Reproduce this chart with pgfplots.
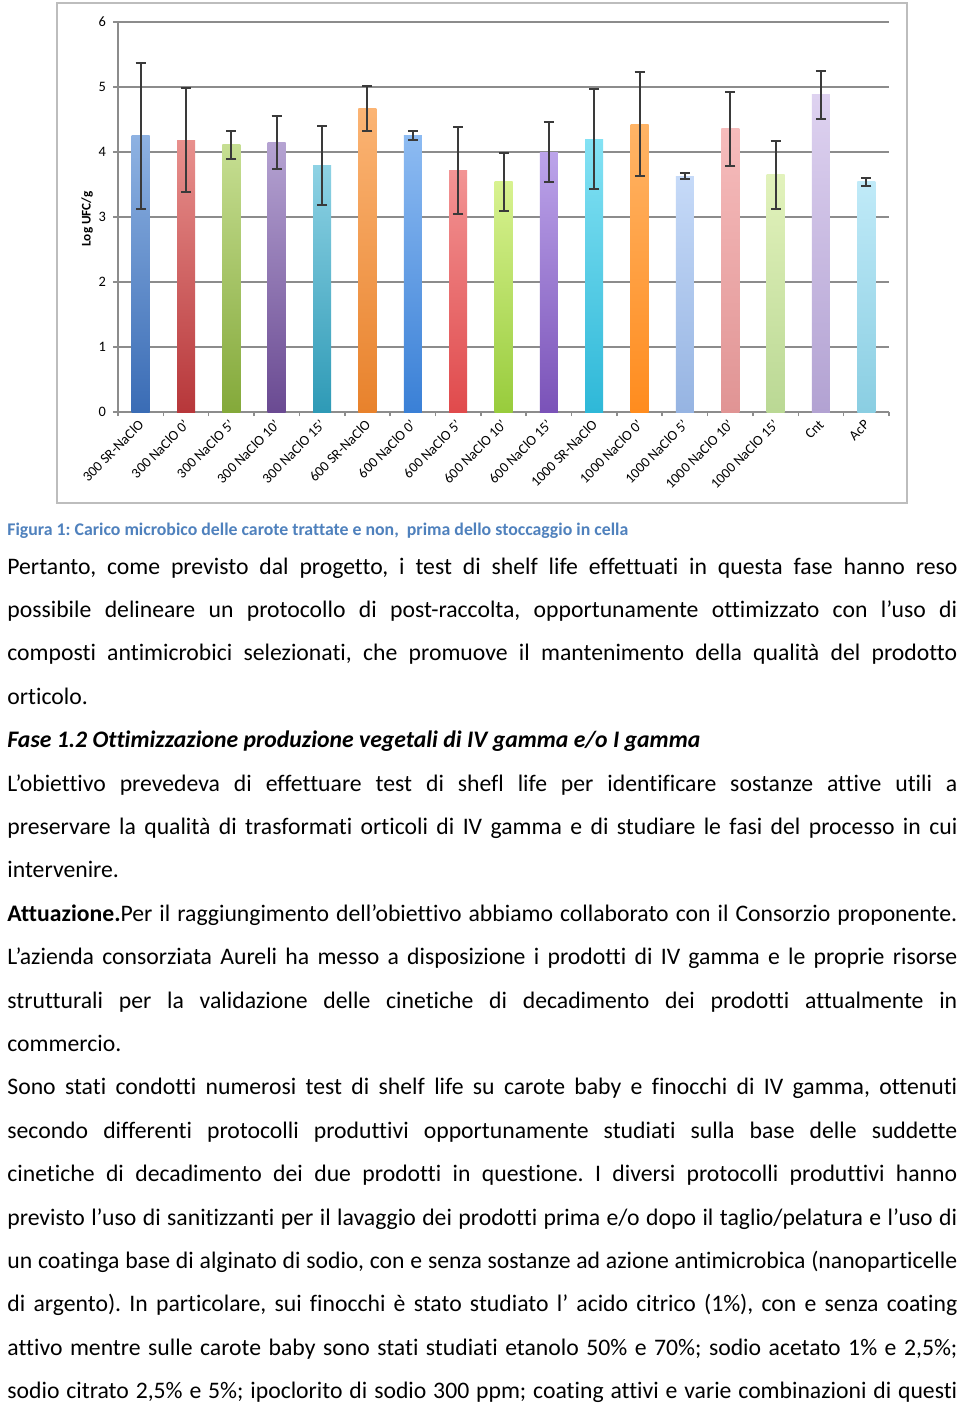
\documentclass[border=0pt]{standalone}
\usepackage{fontspec}
\setmainfont{Carlito}[Ligatures={TeX,NoCommon}]
\usepackage{pgfplots}
\pgfplotsset{compat=1.18}
\definecolor{axisgray}{HTML}{8C8C8C}
\definecolor{framegray}{HTML}{BDBDBD}
\definecolor{errgray}{HTML}{3A3A3A}
\definecolor{capblue}{HTML}{4F81BD}
\definecolor{t1}{HTML}{8EB2E2}\definecolor{b1}{HTML}{3A6CB5}
\definecolor{t2}{HTML}{E8908D}\definecolor{b2}{HTML}{B7373A}
\definecolor{t3}{HTML}{C6DE92}\definecolor{b3}{HTML}{84A93A}
\definecolor{t4}{HTML}{B5A3D2}\definecolor{b4}{HTML}{6A4A92}
\definecolor{t5}{HTML}{8ED2E4}\definecolor{b5}{HTML}{2E9AB6}
\definecolor{t6}{HTML}{FBB474}\definecolor{b6}{HTML}{E8822C}
\definecolor{t7}{HTML}{8DBBF2}\definecolor{b7}{HTML}{3A80D6}
\definecolor{t8}{HTML}{F29494}\definecolor{b8}{HTML}{E04A4C}
\definecolor{t9}{HTML}{D8F290}\definecolor{b9}{HTML}{98CC3C}
\definecolor{t10}{HTML}{BCA4EA}\definecolor{b10}{HTML}{7A52B8}
\definecolor{t11}{HTML}{84E2F4}\definecolor{b11}{HTML}{2EB8D8}
\definecolor{t12}{HTML}{FFB466}\definecolor{b12}{HTML}{FF8C1E}
\definecolor{t13}{HTML}{C6DAF8}\definecolor{b13}{HTML}{96B4E2}
\definecolor{t14}{HTML}{F6BCBC}\definecolor{b14}{HTML}{E09494}
\definecolor{t15}{HTML}{E2F2BC}\definecolor{b15}{HTML}{BAD894}
\definecolor{t16}{HTML}{DED2F0}\definecolor{b16}{HTML}{B2A2D2}
\definecolor{t17}{HTML}{C0EAF8}\definecolor{b17}{HTML}{8ACEE2}
\newcommand{\mybar}[5]{\addplot[ybar, bar width=9pt, bar shift=0pt, draw=none,
  top color=#3, bottom color=#4,
  error bars/.cd, y dir=both, y explicit,
  error bar style={line width=1pt, color=errgray},
  error mark options={rotate=90, mark size=2.5pt, line width=1pt, color=errgray}]
  coordinates {(#1,#2) +- (0,#5)};}
\newcommand{\jline}[2]{\node[anchor=base west, inner sep=0pt] at (3.5pt,#1) {\makebox[475pt][s]{#2}};}
\newcommand{\lline}[2]{\node[anchor=base west, inner sep=0pt] at (3.5pt,#1) {#2};}
\frenchspacing
\begin{document}
\begin{tikzpicture}
\path[use as bounding box, fill=white] (0,0) rectangle (480pt,-701.5pt);
\draw[color=framegray, line width=0.9pt] (28.5pt,-1.5pt) rectangle (453.5pt,-251.5pt);
\begin{axis}[
  at={(59pt,-206pt)}, anchor=south west,
  scale only axis, width=385.5pt, height=195pt,
  xmin=0.5, xmax=17.5, ymin=0, ymax=6,
  axis x line*=bottom, axis y line*=left,
  axis line style={color=axisgray, line width=0.75pt},
  ytick={0,...,6}, ymajorgrids,
  grid style={color=axisgray, line width=0.75pt},
  xtick={1,...,17},
  xticklabels={300 SR-NaClO, 300 NaClO 0', 300 NaClO 5', 300 NaClO 10', 300 NaClO 15', 600 SR-NaClO, 600 NaClO 0', 600 NaClO 5', 600 NaClO 10', 600 NaClO 15', 1000 SR-NaClO, 1000 NaClO 0', 1000 NaClO 5', 1000 NaClO 10', 1000 NaClO 15', Cnt, AcP},
  minor xtick={0.5,1.5,...,17.5},
  tick align=outside,
  major tick length=2.5pt, minor tick length=2pt,
  major x tick style={draw=none},
  tick style={color=axisgray, line width=0.75pt},
  xticklabel shift=3pt,
  xticklabel style={rotate=45, anchor=east, font=\fontsize{7.1}{8}\selectfont, inner sep=1pt, xshift=1.5pt},
  yticklabel style={font=\fontsize{7.2}{8}\selectfont},
  ylabel={\textbf{Log UFC/g}},
  ylabel style={font=\fontsize{6.6}{8}\selectfont, at={(axis description cs:-0.04,0.495)}, anchor=center},
  /pgf/number format/assume math mode=true,
  clip=false,
]
\mybar{1}{4.25}{t1}{b1}{1.12}
\mybar{2}{4.18}{t2}{b2}{0.80}
\mybar{3}{4.11}{t3}{b3}{0.22}
\mybar{4}{4.15}{t4}{b4}{0.41}
\mybar{5}{3.79}{t5}{b5}{0.61}
\mybar{6}{4.67}{t6}{b6}{0.35}
\mybar{7}{4.26}{t7}{b7}{0.07}
\mybar{8}{3.72}{t8}{b8}{0.67}
\mybar{9}{3.54}{t9}{b9}{0.44}
\mybar{10}{4.00}{t10}{b10}{0.46}
\mybar{11}{4.20}{t11}{b11}{0.77}
\mybar{12}{4.43}{t12}{b12}{0.80}
\mybar{13}{3.63}{t13}{b13}{0.05}
\mybar{14}{4.36}{t14}{b14}{0.57}
\mybar{15}{3.65}{t15}{b15}{0.52}
\mybar{16}{4.88}{t16}{b16}{0.37}
\mybar{17}{3.54}{t17}{b17}{0.06}
\end{axis}
\node[anchor=base west, inner sep=0pt, text=capblue, font=\fontsize{8.9}{10}\selectfont\bfseries] at (3.5pt,-267.5pt) {Figura 1: Carico microbico delle carote trattate e non,\ \ prima dello stoccaggio in cella};
\begingroup
\fontsize{11.85}{14}\selectfont
\jline{-287pt}{Pertanto, come previsto dal progetto, i test di shelf life effettuati in questa fase hanno reso}
\jline{-308.7pt}{possibile delineare un protocollo di post-raccolta, opportunamente ottimizzato con l’uso di}
\jline{-330.4pt}{composti antimicrobici selezionati, che promuove il mantenimento della qualità del prodotto}
\lline{-352.1pt}{orticolo.}
\lline{-373.8pt}{\textbf{\itshape Fase 1.2 Ottimizzazione produzione vegetali di IV gamma e/o I gamma}}
\jline{-395.5pt}{L’obiettivo prevedeva di effettuare test di shefl life per identificare sostanze attive utili a}
\jline{-417.2pt}{preservare la qualità di trasformati orticoli di IV gamma e di studiare le fasi del processo in cui}
\lline{-438.9pt}{intervenire.}
\jline{-460.6pt}{\textbf{Attuazione.}Per il raggiungimento dell’obiettivo abbiamo collaborato con il Consorzio proponente.}
\jline{-482.3pt}{L’azienda consorziata Aureli ha messo a disposizione i prodotti di IV gamma e le proprie risorse}
\jline{-504pt}{strutturali per la validazione delle cinetiche di decadimento dei prodotti attualmente in}
\lline{-525.7pt}{commercio.}
\jline{-547.4pt}{Sono stati condotti numerosi test di shelf life su carote baby e finocchi di IV gamma, ottenuti}
\jline{-569.1pt}{secondo differenti protocolli produttivi opportunamente studiati sulla base delle suddette}
\jline{-590.8pt}{cinetiche di decadimento dei due prodotti in questione. I diversi protocolli produttivi hanno}
\jline{-612.5pt}{previsto l’uso di sanitizzanti per il lavaggio dei prodotti prima e/o dopo il taglio/pelatura e l’uso di}
\jline{-634.2pt}{un coatinga base di alginato di sodio, con e senza sostanze ad azione antimicrobica (nanoparticelle}
\jline{-655.9pt}{di argento). In particolare, sui finocchi è stato studiato l’ acido citrico (1\%), con e senza coating}
\jline{-677.6pt}{attivo mentre sulle carote baby sono stati studiati etanolo 50\% e 70\%; sodio acetato 1\% e 2,5\%;}
\jline{-699.3pt}{sodio citrato 2,5\% e 5\%; ipoclorito di sodio 300 ppm; coating attivi e varie combinazioni di questi}
\endgroup
\end{tikzpicture}
\end{document}
